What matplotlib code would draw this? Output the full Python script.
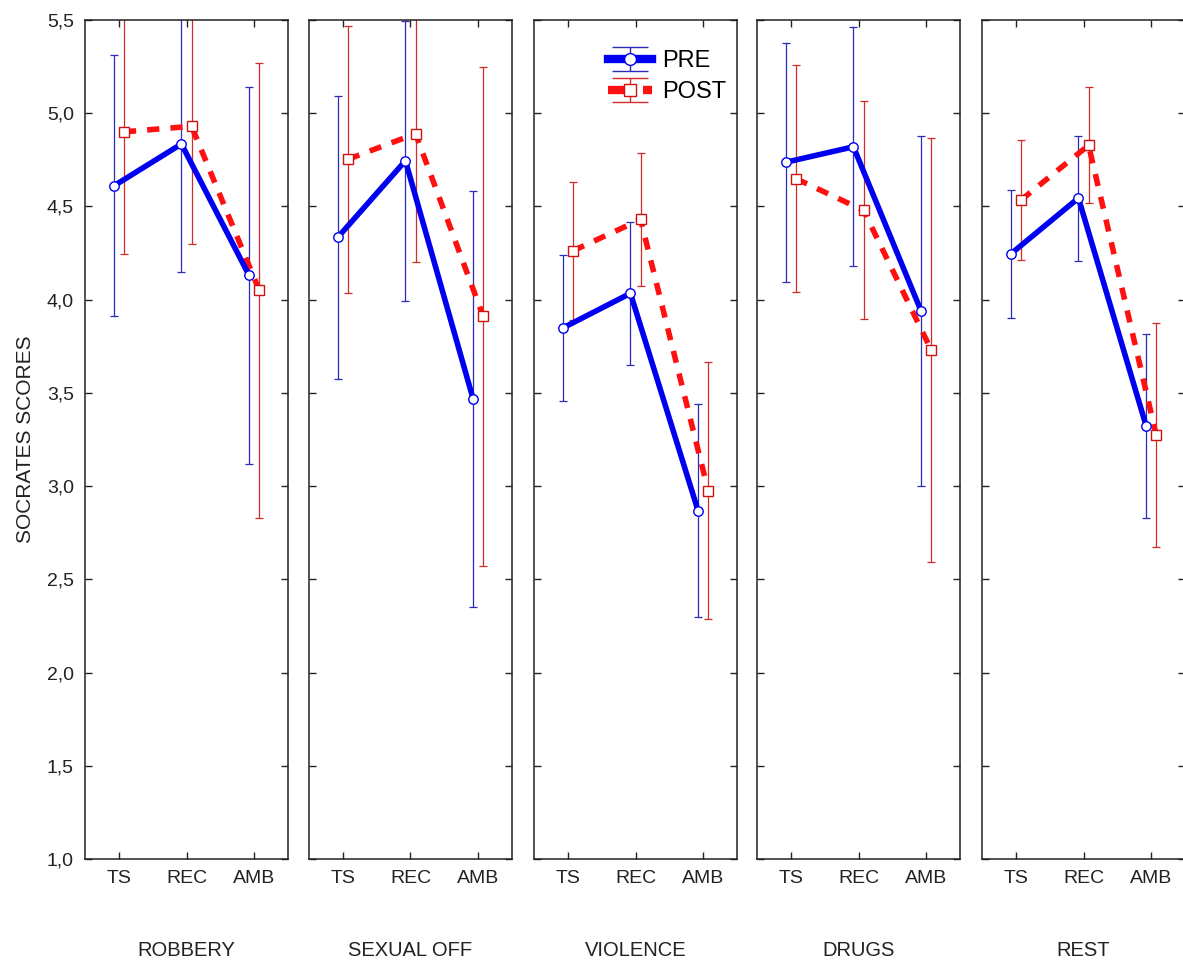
import matplotlib
matplotlib.use('Agg')
import matplotlib.pyplot as plt
from matplotlib.ticker import FuncFormatter
from matplotlib.legend_handler import HandlerErrorbar
from matplotlib.container import ErrorbarContainer
import numpy as np

plt.rcParams['font.family'] = ['Liberation Sans', 'DejaVu Sans']

groups = ['ROBBERY', 'SEXUAL OFF', 'VIOLENCE', 'DRUGS', 'REST']
conditions = ['TS', 'REC', 'AMB']

# means and error bar half widths, one row per group (TS, REC, AMB)
pre_mean = [[4.61, 4.835, 4.13],
            [4.334, 4.745, 3.468],
            [3.848, 4.034, 2.868],
            [4.737, 4.82, 3.939],
            [4.245, 4.545, 3.324]]
pre_err = [[0.70, 0.685, 1.01],
           [0.76, 0.75, 1.117],
           [0.39, 0.385, 0.57],
           [0.64, 0.64, 0.94],
           [0.345, 0.335, 0.494]]
post_mean = [[4.90, 4.93, 4.05],
             [4.753, 4.89, 3.91],
             [4.262, 4.43, 2.975],
             [4.649, 4.479, 3.73],
             [4.534, 4.828, 3.274]]
post_err = [[0.655, 0.63, 1.22],
            [0.717, 0.69, 1.34],
            [0.37, 0.355, 0.69],
            [0.61, 0.585, 1.136],
            [0.32, 0.31, 0.60]]

W, H = 1183, 961
fig = plt.figure(figsize=(W / 100, H / 100), dpi=100)

blue = '#0000f0'
blue_bar = '#2a2abb'
red = '#ff1010'
red_bar = '#d42a2a'
ink = '#222222'

lefts = [85, 309, 534, 757, 982]
x = np.arange(3)
off = 0.075
post_dash = (0, (2.2, 2.0))

axes = []
for i, name in enumerate(groups):
    ax = fig.add_axes([lefts[i] / W, 1 - 859 / H, 203 / W, 839 / H])
    axes.append(ax)

    ax.errorbar(x - off, pre_mean[i], yerr=pre_err[i], fmt='none',
                ecolor=blue_bar, elinewidth=0.9, capsize=2.7, capthick=0.9, zorder=2)
    ax.errorbar(x + off, post_mean[i], yerr=post_err[i], fmt='none',
                ecolor=red_bar, elinewidth=0.9, capsize=2.7, capthick=0.9, zorder=2)
    ax.plot(x - off, pre_mean[i], color=blue, lw=4, marker='o', ms=6.8,
            mfc='white', mec=blue, mew=1.0, zorder=4, solid_capstyle='round')
    ax.plot(x + off, post_mean[i], color=red, lw=4, ls=post_dash,
            marker='s', ms=6.5, mfc='white', mec='#d01010', mew=1.0, zorder=3)

    ax.set_xlim(-0.5, 2.5)
    ax.set_ylim(1.0, 5.5)
    ax.set_xticks(x)
    ax.set_xticklabels(conditions)
    ax.set_yticks(np.arange(1.0, 5.51, 0.5))
    ax.tick_params(direction='in', top=True, right=True, length=5, width=1,
                   labelsize=14, pad=8, colors=ink)
    ax.yaxis.set_major_formatter(FuncFormatter(lambda v, p: f'{v:.1f}'.replace('.', ',')))
    if i > 0:
        ax.tick_params(labelleft=False)
    for s in ax.spines.values():
        s.set_linewidth(1.1)
        s.set_color(ink)
    ax.set_xlabel(name, fontsize=14.5, labelpad=39, color=ink)

    if i == 2:
        # proxies for the legend only (nan data, nothing drawn)
        pre_h = ax.errorbar([np.nan], [np.nan], yerr=[0.1], fmt='-o', color=blue, lw=6,
                            ms=8.5, mfc='white', mec=blue, mew=1.0, ecolor=blue_bar,
                            elinewidth=1.0, capsize=13, capthick=1.0)
        post_h = ax.errorbar([np.nan], [np.nan], yerr=[0.1], fmt='s', color=red, lw=6,
                             ls=post_dash, ms=8.5, mfc='white', mec='#d01010', mew=1.0,
                             ecolor=red_bar, elinewidth=1.0, capsize=13, capthick=1.0)
        ax.legend([pre_h, post_h], ['PRE', 'POST'],
                  handler_map={ErrorbarContainer: HandlerErrorbar(yerr_size=0.5)},
                  loc='upper right', bbox_to_anchor=((726 - 534) / 203, 1 - (50 - 20) / 839),
                  frameon=False, fontsize=17, handlelength=1.86, handletextpad=0.42,
                  labelspacing=0.38, borderpad=0, borderaxespad=0)

axes[0].set_ylabel('SOCRATES SCORES', fontsize=15, color=ink)
axes[0].yaxis.set_label_coords(-0.245, 0.5)

fig.savefig('out.png', dpi=100)
